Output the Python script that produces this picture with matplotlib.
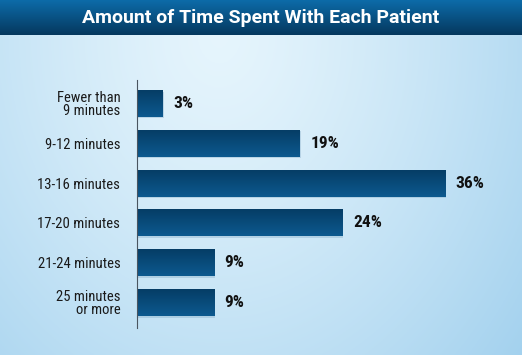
import numpy as np
import matplotlib.pyplot as plt

# Data
categories = ['Fewer than\n9 minutes', '9-12 minutes', '13-16 minutes',
              '17-20 minutes', '21-24 minutes', '25 minutes\nor more']
values = [3, 19, 36, 24, 9, 9]
title = 'Amount of Time Spent With Each Patient'

W, H = 522, 355
cond = ['Roboto Condensed', 'DejaVu Sans']

fig = plt.figure(figsize=(W / 100, H / 100), dpi=100)

# background gradient, light in upper middle, bluer at edges
bg = fig.add_axes([0, 0, 1, 1])
xx, yy = np.meshgrid(np.linspace(0, 1, 300), np.linspace(0, 1, 200))  # yy from top
r = np.sqrt(((xx - 0.42) / 0.8) ** 2 + ((yy - 0.1) / 1.5) ** 2)
r = np.clip(r, 0, 1) ** 1.3
c0 = np.array([0.90, 0.96, 0.99])
c1 = np.array([0.62, 0.81, 0.93])
img = c0 * (1 - r[..., None]) + c1 * r[..., None]
bg.imshow(img, extent=[0, W, 0, H], aspect='auto', origin='upper')
# title bar
t = np.linspace(0, 1, 50)[:, None, None]
top = np.array([0.05, 0.42, 0.66])
bot = np.array([0.02, 0.22, 0.37])
bar_img = np.repeat(top * (1 - t) + bot * t, 2, axis=1)
bg.imshow(bar_img, extent=[0, W, H - 35, H], aspect='auto', origin='upper')
bg.set_xlim(0, W)
bg.set_ylim(0, H)
bg.axis('off')
bg.text(W / 2, H - 18, title, color='white', fontsize=14, fontweight='bold',
        ha='center', va='center', family=['Roboto', 'DejaVu Sans'])

# chart axes
ax = fig.add_axes([137 / W, 27 / H, (W - 137) / W, 248 / H])
ax.patch.set_alpha(0)
y = np.arange(len(categories))
bars = ax.barh(y, values, height=0.675, color='#0a4a78', edgecolor='none', zorder=2)
xmax = (W - 137) / 8.56

# vertical gradient inside each bar, plus a faint shadow
g = np.linspace(0, 1, 40)[:, None, None]
gt = np.array([0.02, 0.24, 0.40])
gb = np.array([0.05, 0.35, 0.56])
grad = np.repeat(gt * (1 - g) + gb * g, 2, axis=1)
for b in bars:
    x0, y0 = b.get_x(), b.get_y()
    w, h = b.get_width(), b.get_height()
    ax.barh(y0 + h / 2 + 0.04, w, height=h, left=0.12, color='#7fa7c4',
            alpha=0.35, edgecolor='none', zorder=1)
    im = ax.imshow(grad, extent=[x0, x0 + w, y0 + h, y0], aspect='auto',
                   origin='upper', zorder=3)
    im.set_clip_path(b)

for s in ['top', 'right', 'bottom']:
    ax.spines[s].set_visible(False)
ax.spines['left'].set_color('#4a5560')
ax.spines['left'].set_linewidth(0.8)
ax.spines['left'].set_zorder(4)
ax.set_xlim(0, xmax)
ax.set_ylim(5.6375, -0.5875)
ax.set_xticks([])
ax.set_yticks(y)
ax.set_yticklabels(categories, fontsize=10.5, family=cond,
                   color='#1a1a1a', linespacing=0.9)
ax.tick_params(axis='y', length=0, pad=12)
for yi, v in zip(y, values):
    ax.text(v + 1.25, yi, f'{v}%', va='center', ha='left', fontsize=12.5,
            fontweight='bold', family=cond, color='#111111')

fig.savefig('out.png', dpi=100)
